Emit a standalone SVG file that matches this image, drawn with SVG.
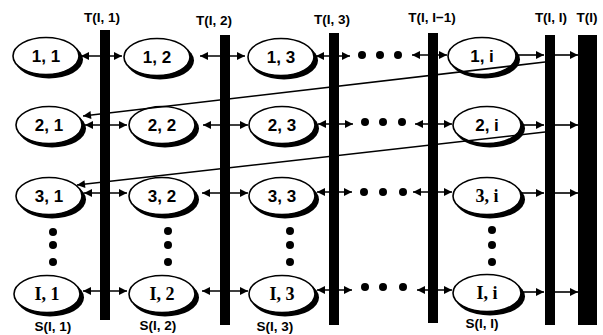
<svg xmlns="http://www.w3.org/2000/svg" width="603" height="335" viewBox="0 0 603 335">
<defs>
<marker id="ah" viewBox="0 0 10 10" refX="10" refY="5" markerWidth="9" markerHeight="8" markerUnits="userSpaceOnUse" orient="auto-start-reverse"><path d="M0,0 L10,5 L0,10 Z" fill="#000"/></marker>
</defs>
<style>
.sh{fill:#000}
.el{fill:#fff;stroke:#000;stroke-width:1.6}
.lb{font-family:"Liberation Sans",Arial,sans-serif;font-weight:bold;font-size:17px;text-anchor:middle;fill:#000}
.lbs{font-family:"Liberation Serif","Times New Roman",serif;font-weight:bold;font-size:18px;text-anchor:middle;fill:#000}
.tl{font-family:"Liberation Sans",Arial,sans-serif;font-weight:bold;font-size:13.5px;text-anchor:middle;fill:#000}
.bar{fill:#000}
.c{stroke:#000;stroke-width:1.6;fill:none}
.d{fill:#000}
</style>
<rect width="603" height="335" fill="#fff"/>

<!-- bars -->
<g id="T1"><rect class="bar" x="100" y="30" width="10" height="290"/><text class="tl" x="102" y="22">T(I, 1)</text></g>
<g id="T2"><rect class="bar" x="220" y="35" width="10" height="290"/><text class="tl" x="214" y="25">T(I, 2)</text></g>
<g id="T3"><rect class="bar" x="329" y="33" width="10" height="292"/><text class="tl" x="332" y="24">T(I, 3)</text></g>
<g id="T4"><rect class="bar" x="428" y="33" width="10" height="290"/><text class="tl" x="432" y="22">T(I, I−1)</text></g>
<g id="T5"><rect class="bar" x="545" y="35" width="10" height="290"/><text class="tl" x="551" y="22">T(I, I)</text></g>
<g id="T6"><rect class="bar" x="578" y="35" width="19" height="290"/><text class="tl" x="587" y="22">T(I)</text></g>

<!-- nodes -->
<g id="n11"><ellipse class="sh" cx="49" cy="59.5" rx="34" ry="19"/><ellipse class="el" cx="46" cy="56" rx="33" ry="18.5"/><text class="lb" x="46" y="62">1, 1</text></g>
<g id="n12"><ellipse class="sh" cx="160" cy="60.5" rx="34" ry="19"/><ellipse class="el" cx="157" cy="57" rx="33" ry="18.5"/><text class="lb" x="157" y="63">1, 2</text></g>
<g id="n13"><ellipse class="sh" cx="284" cy="60.5" rx="34" ry="19"/><ellipse class="el" cx="281" cy="57" rx="33" ry="18.5"/><text class="lb" x="281" y="63">1, 3</text></g>
<g id="n1i"><ellipse class="sh" cx="485" cy="59.5" rx="35" ry="19"/><ellipse class="el" cx="482" cy="56" rx="34" ry="18.5"/><text class="lb" x="482" y="62">1, i</text></g>

<g id="n21"><ellipse class="sh" cx="52" cy="128.5" rx="34" ry="19"/><ellipse class="el" cx="49" cy="125" rx="33" ry="18.5"/><text class="lb" x="49" y="131">2, 1</text></g>
<g id="n22"><ellipse class="sh" cx="165" cy="128.5" rx="34" ry="19"/><ellipse class="el" cx="162" cy="125" rx="33" ry="18.5"/><text class="lb" x="162" y="131">2, 2</text></g>
<g id="n23"><ellipse class="sh" cx="285" cy="128.5" rx="34" ry="19"/><ellipse class="el" cx="282" cy="125" rx="33" ry="18.5"/><text class="lb" x="282" y="131">2, 3</text></g>
<g id="n2i"><ellipse class="sh" cx="490" cy="128.5" rx="35" ry="19"/><ellipse class="el" cx="487" cy="125" rx="34" ry="18.5"/><text class="lb" x="487" y="131">2, i</text></g>

<g id="n31"><ellipse class="sh" cx="52" cy="199.5" rx="34" ry="19"/><ellipse class="el" cx="49" cy="196" rx="33" ry="18.5"/><text class="lb" x="49" y="202">3, 1</text></g>
<g id="n32"><ellipse class="sh" cx="165" cy="199.5" rx="34" ry="19"/><ellipse class="el" cx="162" cy="196" rx="33" ry="18.5"/><text class="lb" x="162" y="202">3, 2</text></g>
<g id="n33"><ellipse class="sh" cx="285" cy="199.5" rx="34" ry="19"/><ellipse class="el" cx="282" cy="196" rx="33" ry="18.5"/><text class="lb" x="282" y="202">3, 3</text></g>
<g id="n3i"><ellipse class="sh" cx="490" cy="199.5" rx="35" ry="19"/><ellipse class="el" cx="487" cy="196" rx="34" ry="18.5"/><text class="lbs" x="487" y="202">3, i</text></g>

<g id="nI1"><ellipse class="sh" cx="50" cy="297.5" rx="34" ry="19"/><ellipse class="el" cx="47" cy="294" rx="33" ry="18.5"/><text class="lbs" x="47" y="300">I, 1</text><text class="tl" x="53" y="331">S(I, 1)</text></g>
<g id="nI2"><ellipse class="sh" cx="165" cy="297.5" rx="34" ry="19"/><ellipse class="el" cx="162" cy="294" rx="33" ry="18.5"/><text class="lbs" x="162" y="300">I, 2</text><text class="tl" x="158" y="330">S(I, 2)</text></g>
<g id="nI3"><ellipse class="sh" cx="285" cy="297.5" rx="34" ry="19"/><ellipse class="el" cx="282" cy="294" rx="33" ry="18.5"/><text class="lbs" x="282" y="300">I, 3</text><text class="tl" x="275" y="331">S(I, 3)</text></g>
<g id="nIi"><ellipse class="sh" cx="490" cy="296.5" rx="35" ry="19"/><ellipse class="el" cx="487" cy="293" rx="34" ry="18.5"/><text class="lbs" x="487" y="299">I, i</text><text class="tl" x="482" y="328">S(I, I)</text></g>

<!-- ellipsis dots -->
<g id="dots">
<circle class="d" cx="362" cy="55" r="4"/><circle class="d" cx="380" cy="55" r="4"/><circle class="d" cx="398" cy="55" r="4"/>
<circle class="d" cx="365" cy="122" r="4"/><circle class="d" cx="383" cy="122" r="4"/><circle class="d" cx="402" cy="122" r="4"/>
<circle class="d" cx="364" cy="192" r="4"/><circle class="d" cx="383" cy="192" r="4"/><circle class="d" cx="403" cy="192" r="4"/>
<circle class="d" cx="365" cy="287" r="4"/><circle class="d" cx="383" cy="287" r="4"/><circle class="d" cx="403" cy="287" r="4"/>
<circle class="d" cx="53" cy="232" r="4"/><circle class="d" cx="53" cy="245" r="4"/><circle class="d" cx="53" cy="262" r="4"/>
<circle class="d" cx="168" cy="231" r="4"/><circle class="d" cx="168" cy="245" r="4"/><circle class="d" cx="168" cy="262" r="4"/>
<circle class="d" cx="290" cy="231" r="4"/><circle class="d" cx="290" cy="245" r="4"/><circle class="d" cx="290" cy="262" r="4"/>
<circle class="d" cx="492" cy="230" r="4"/><circle class="d" cx="492" cy="245" r="4"/><circle class="d" cx="492" cy="262" r="4"/>
</g>

<!-- connectors -->
<g id="connectors">
<!-- row 1 -->
<line class="c" x1="81" y1="56" x2="122" y2="56" marker-start="url(#ah)" marker-end="url(#ah)"/>
<line class="c" x1="200" y1="56" x2="245" y2="56" marker-start="url(#ah)" marker-end="url(#ah)"/>
<line class="c" x1="316" y1="56" x2="350" y2="56" marker-start="url(#ah)" marker-end="url(#ah)"/>
<line class="c" x1="412" y1="55" x2="447" y2="55" marker-start="url(#ah)" marker-end="url(#ah)"/>
<line class="c" x1="518" y1="55" x2="544" y2="55" marker-end="url(#ah)"/>
<line class="c" x1="555" y1="55" x2="578" y2="55" marker-end="url(#ah)"/>
<!-- row 2 -->
<line class="c" x1="85" y1="125" x2="127" y2="125" marker-start="url(#ah)" marker-end="url(#ah)"/>
<line class="c" x1="203" y1="125" x2="248" y2="125" marker-start="url(#ah)" marker-end="url(#ah)"/>
<line class="c" x1="318" y1="124" x2="353" y2="124" marker-start="url(#ah)" marker-end="url(#ah)"/>
<line class="c" x1="415" y1="124" x2="452" y2="124" marker-start="url(#ah)" marker-end="url(#ah)"/>
<line class="c" x1="522" y1="125" x2="544" y2="125" marker-end="url(#ah)"/>
<line class="c" x1="555" y1="125" x2="578" y2="125" marker-end="url(#ah)"/>
<!-- row 3 -->
<line class="c" x1="84" y1="193" x2="127" y2="193" marker-start="url(#ah)" marker-end="url(#ah)"/>
<line class="c" x1="202" y1="193" x2="248" y2="193" marker-start="url(#ah)" marker-end="url(#ah)"/>
<line class="c" x1="317" y1="192" x2="352" y2="192" marker-start="url(#ah)" marker-end="url(#ah)"/>
<line class="c" x1="413" y1="192" x2="452" y2="192" marker-start="url(#ah)" marker-end="url(#ah)"/>
<line class="c" x1="522" y1="193" x2="544" y2="193" marker-end="url(#ah)"/>
<line class="c" x1="555" y1="193" x2="578" y2="193" marker-end="url(#ah)"/>
<!-- row I -->
<line class="c" x1="83" y1="291" x2="127" y2="291" marker-start="url(#ah)" marker-end="url(#ah)"/>
<line class="c" x1="202" y1="291" x2="248" y2="291" marker-start="url(#ah)" marker-end="url(#ah)"/>
<line class="c" x1="317" y1="290" x2="352" y2="290" marker-start="url(#ah)" marker-end="url(#ah)"/>
<line class="c" x1="417" y1="290" x2="452" y2="290" marker-start="url(#ah)" marker-end="url(#ah)"/>
<line class="c" x1="522" y1="292" x2="544" y2="292" marker-end="url(#ah)"/>
<line class="c" x1="555" y1="292" x2="578" y2="292" marker-end="url(#ah)"/>
<!-- wrap-around lines -->
<line class="c" x1="545" y1="62" x2="83" y2="116" marker-end="url(#ah)"/>
<line class="c" x1="545" y1="132" x2="77" y2="185" marker-end="url(#ah)"/>
</g>
</svg>
